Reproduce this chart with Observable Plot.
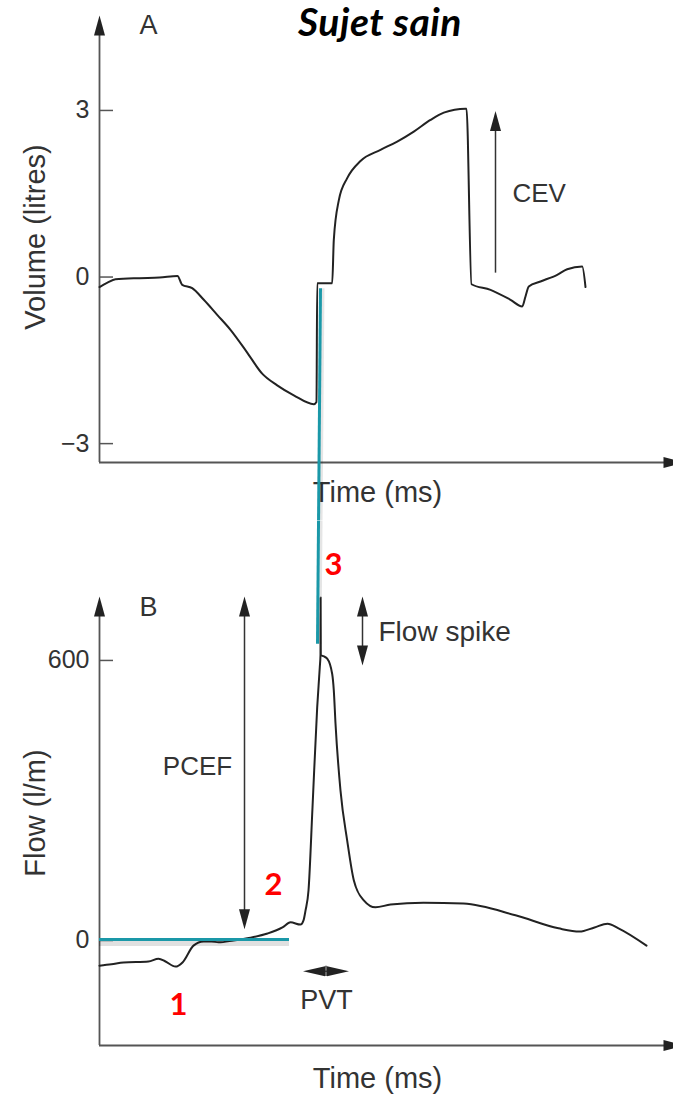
<!DOCTYPE html>
<html><head><meta charset="utf-8">
<script src="https://cdn.jsdelivr.net/npm/d3@7"></script>
<script src="https://cdn.jsdelivr.net/npm/@observablehq/plot@0.6"></script>
<style>
html,body{margin:0;padding:0;background:#fff;overflow:hidden;}
#wrap{position:relative;width:673px;height:1094px;}
#a,#b{display:block;}
#title{position:absolute;left:380px;top:0px;transform:translateX(-50%);font-family:Lato,"Open Sans",sans-serif;font-weight:700;font-style:italic;font-size:39px;letter-spacing:0.5px;line-height:1.1;color:#000;white-space:nowrap;}
</style>
</head><body>
<div id="wrap">
<div id="a"></div><div id="b"></div>
<div id="title">Sujet sain</div>
</div>
<script>
// ---- Data (time in ms, arbitrary origin) ----
const volTime  = [0, 8, 16, 40, 60, 78, 82.7, 92.7, 104.3, 117.7, 131, 147.7, 162.7, 177.7, 194.3, 214.3, 217, 217.7, 232.7, 234.3, 239.3, 247.7, 261, 281, 297.7, 314.3, 331, 344.3, 366, 367, 372, 391, 411, 422.7, 426, 429.3, 441, 457.7, 467.7, 482.7, 486];
const volValue = [-0.18, -0.1, -0.04, -0.02, -0.01, 0.02, -0.14, -0.2, -0.41, -0.68, -0.95, -1.36, -1.74, -1.95, -2.13, -2.29, -2.25, -0.11, -0.11, 0.67, 1.38, 1.78, 2.09, 2.29, 2.44, 2.62, 2.83, 2.96, 3.03, 3.03, -0.13, -0.23, -0.41, -0.53, -0.35, -0.17, -0.08, 0.04, 0.14, 0.19, -0.18];
const flowTime  = [0, 12, 24, 49, 59, 66, 76, 83, 94, 104, 112, 119, 134, 151, 168, 183, 191, 201, 204, 206, 209, 213, 217.7, 220.3, 221, 221.1, 221.3, 224, 227.7, 232.7, 234.3, 236, 241, 247.7, 254.3, 264.3, 276, 291, 324, 364, 416, 459, 480, 495, 508, 519, 547];
const flowValue = [-54, -51, -47, -45, -39, -45, -56, -47, -11, -2, -2, -4, 0, 6, 15, 28, 39, 34, 43, 64, 107, 285, 500, 586, 612, 735, 612, 609, 604, 571, 536, 465, 321, 214, 129, 86, 71, 77, 81, 79, 54, 26, 19, 28, 36, 26, -11];
const volTicks  = [-3, 0, 3];
const flowTicks = [0, 600];

// annotations (data coordinates)
const cevArrow   = {t: 396, from: 0.07, to: 2.99};
const pcefArrow  = {t: 145, top: 737, bottom: 24};
const spikeArrow = {t: 263, top: 737, bottom: 589};
const pvtArrow   = {f: -66, left: 203.5, right: 249.5};
const baseline   = {f: 2, from: 0, to: 190};
const vertLineA  = {x1: 221, y1: -0.2, x2: 219.04, y2: -4.38};
const vertLineB  = {x1: 219.04, y1: 900, x2: 218, y2: 636};

const xDomain = [0, 574];
const yA = [-3.34, 4.71];
const yB = [-225, 737];
const axisColor = "#555";
const ink = "#2b2b2b";
const teal = "#1a98a8";
const red = "#ff0000";
const txt = "Liberation Sans, Arial, Helvetica, sans-serif";
const red_font = "Lato, 'Open Sans', sans-serif";

const volData  = volTime.map((t, i) => ({t, v: volValue[i]}));
const flowData = flowTime.map((t, i) => ({t, f: flowValue[i]}));

function head(x, y, rotate, len = 20, r = 5.5) {
  return Plot.vector([{x, y}], {x: "x", y: "y", rotate, length: len, r, shape: "spike", anchor: "end", fill: "#222", stroke: "none"});
}

const plotA = Plot.plot({
  width: 673, height: 520,
  marginLeft: 99, marginRight: 0, marginTop: 15, marginBottom: 58,
  x: {domain: xDomain, axis: null},
  y: {domain: yA, axis: null},
  style: {fontFamily: txt, color: ink, background: "transparent"},
  marks: [
    Plot.ruleX([0], {y1: yA[0], y2: yA[1] - 0.25, stroke: axisColor, strokeWidth: 1.8}),
    head(0, yA[1], 0),
    Plot.ruleY([yA[0]], {x1: 0, x2: 566, stroke: axisColor, strokeWidth: 1.8}),
    head(584, yA[0], 90),
    Plot.ruleY(volTicks, {x1: 0, x2: 14, stroke: axisColor, strokeWidth: 1.5}),
    Plot.axisY({ticks: volTicks, tickSize: 0, tickPadding: 10, fontSize: 25, label: null, fill: "#333"}),
    Plot.text(["Volume (litres)"], {frameAnchor: "left", textAnchor: "middle", lineAnchor: "middle", rotate: -90, dx: -64, dy: -2, fontSize: 29, fill: "#333"}),
    Plot.text(["Time (ms)"], {frameAnchor: "bottom", textAnchor: "middle", lineAnchor: "middle", dy: 30, dx: -9, fontSize: 29, fill: "#333"}),
    Plot.text(["A"], {x: 49, y: 4.54, fontSize: 27, fill: "#333"}),
    // CEV arrow
    Plot.ruleX([cevArrow.t], {y1: cevArrow.from, y2: cevArrow.to - 0.3, stroke: "#333", strokeWidth: 1.5}),
    head(cevArrow.t, cevArrow.to, 0),
    Plot.text(["CEV"], {x: 413, y: 1.51, textAnchor: "start", fontSize: 26, fill: "#333"}),
    // volume curve
    Plot.line(volData, {x: "t", y: "v", curve: "monotone-x", stroke: "#222", strokeWidth: 2}),
    // teal line (part 1)
    Plot.link([vertLineA], {x1: "x1", y1: "y1", x2: "x2", y2: "y2", stroke: "#000", strokeOpacity: 0.1, strokeWidth: 3, dx: 2.5}),
    Plot.link([vertLineA], {x1: "x1", y1: "y1", x2: "x2", y2: "y2", stroke: teal, strokeWidth: 3})
  ]
});

const plotB = Plot.plot({
  width: 673, height: 574,
  marginLeft: 99, marginRight: 0, marginTop: 76, marginBottom: 49,
  x: {domain: xDomain, axis: null},
  y: {domain: yB, axis: null},
  style: {fontFamily: txt, color: ink, background: "transparent"},
  marks: [
    Plot.ruleX([0], {y1: yB[0], y2: yB[1] - 20, stroke: axisColor, strokeWidth: 1.8}),
    head(0, yB[1], 0),
    Plot.ruleY([yB[0]], {x1: 0, x2: 566, stroke: axisColor, strokeWidth: 1.8}),
    head(584, yB[0], 90),
    Plot.ruleY(flowTicks, {x1: 0, x2: 14, stroke: axisColor, strokeWidth: 1.5}),
    Plot.axisY({ticks: flowTicks, tickSize: 0, tickPadding: 10, fontSize: 25, label: null, fill: "#333"}),
    Plot.text(["Flow (l/m)"], {frameAnchor: "left", textAnchor: "middle", lineAnchor: "middle", rotate: -90, dx: -64, dy: -8, fontSize: 29, fill: "#333"}),
    Plot.text(["Time (ms)"], {frameAnchor: "bottom", textAnchor: "middle", lineAnchor: "middle", dy: 33, dx: -9, fontSize: 29, fill: "#333"}),
    Plot.text(["B"], {x: 49, y: 713, fontSize: 27, fill: "#333"}),
    // PCEF double arrow
    Plot.ruleX([pcefArrow.t], {y1: pcefArrow.bottom + 30, y2: pcefArrow.top - 30, stroke: "#333", strokeWidth: 1.5}),
    head(pcefArrow.t, pcefArrow.top, 0),
    head(pcefArrow.t, pcefArrow.bottom, 180),
    Plot.text(["PCEF"], {x: 98, y: 373, fontSize: 26, fill: "#333"}),
    // Flow spike double arrow
    Plot.ruleX([spikeArrow.t], {y1: spikeArrow.bottom + 30, y2: spikeArrow.top - 30, stroke: "#333", strokeWidth: 1.5}),
    head(spikeArrow.t, spikeArrow.top, 0),
    head(spikeArrow.t, spikeArrow.bottom, 180),
    Plot.text(["Flow spike"], {x: 279, y: 660, textAnchor: "start", fontSize: 28, fill: "#333"}),
    // PVT
    Plot.ruleY([pvtArrow.f], {x1: pvtArrow.left + 10, x2: pvtArrow.right - 10, stroke: "#333", strokeWidth: 1.5}),
    head(pvtArrow.left, pvtArrow.f, -90, 22, 5),
    head(pvtArrow.right, pvtArrow.f, 90, 22, 5),
    Plot.ruleX([(pvtArrow.left + pvtArrow.right) / 2], {y1: pvtArrow.f - 11, y2: pvtArrow.f + 11, stroke: "#333", strokeWidth: 1.5}),
    Plot.text(["PVT"], {x: 227, y: -129, fontSize: 27, fill: "#333"}),
    // flow curve
    Plot.line(flowData, {x: "t", y: "f", curve: "monotone-x", stroke: "#222", strokeWidth: 2}),
    // teal lines
    Plot.ruleY([baseline.f], {x1: baseline.from, x2: baseline.to, stroke: "#000", strokeOpacity: 0.12, strokeWidth: 5, dy: 4}),
    Plot.ruleY([baseline.f], {x1: baseline.from, x2: baseline.to, stroke: teal, strokeWidth: 3}),
    Plot.link([vertLineB], {x1: "x1", y1: "y1", x2: "x2", y2: "y2", stroke: "#000", strokeOpacity: 0.1, strokeWidth: 3, dx: 2.5}),
    Plot.link([vertLineB], {x1: "x1", y1: "y1", x2: "x2", y2: "y2", stroke: teal, strokeWidth: 3}),
    // red step numbers
    Plot.text(["1"], {x: 79, y: -139, fontSize: 31, fontWeight: 700, fill: red, fontFamily: red_font}),
    Plot.text(["2"], {x: 174, y: 118, fontSize: 31, fontWeight: 700, fill: red, fontFamily: red_font}),
    Plot.text(["3"], {x: 234, y: 804, fontSize: 31, fontWeight: 700, fill: red, fontFamily: red_font})
  ]
});

document.getElementById("a").appendChild(plotA);
document.getElementById("b").appendChild(plotB);
</script>
</body></html>
